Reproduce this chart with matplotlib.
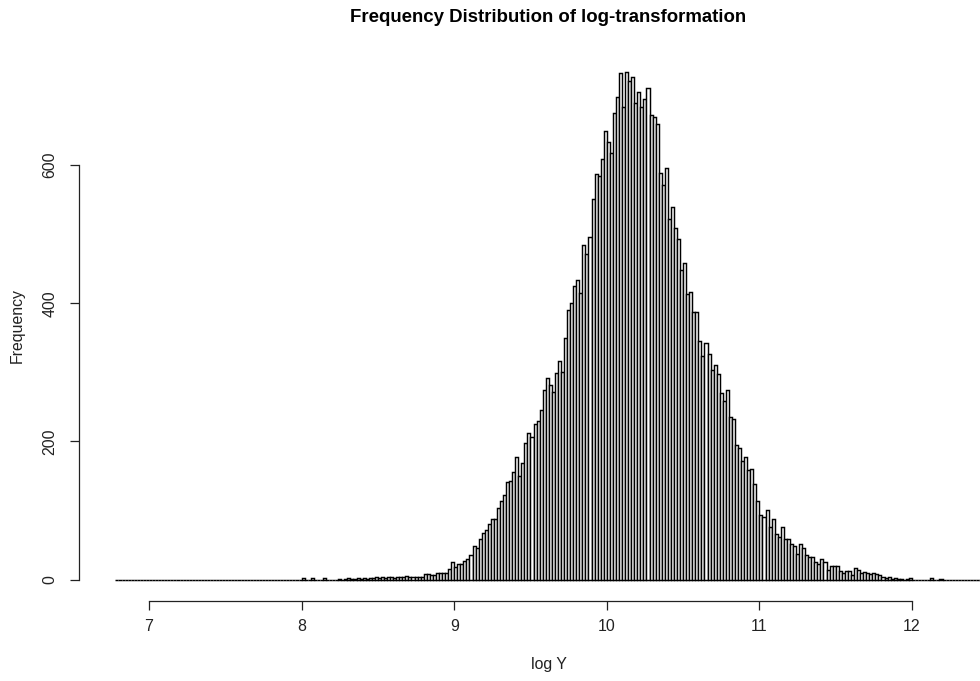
import numpy as np
import matplotlib
matplotlib.use("Agg")
import matplotlib.pyplot as plt

plt.rcParams['font.family'] = ['Liberation Sans', 'DejaVu Sans']

# histogram of log(Y): breaks every 0.02 starting at 6.78
first_break = 6.78
bin_width = 0.02
n_empty_left = 61      # empty bins 6.78 .. 7.98
n_empty_right = 13     # empty bins 12.20 .. 12.44

# counts for bins 8.00 .. 12.18 (10 bins per row)
core_counts = [
    2, 0, 0, 2, 0, 0, 0, 2, 0, 0,
    0, 0, 1, 0, 1, 2, 1, 1, 2, 1,
    2, 1, 2, 2, 3, 2, 3, 2, 3, 4,
    2, 3, 4, 3, 5, 4, 3, 4, 3, 4,
    8, 8, 7, 7, 9, 9, 9, 10, 15, 25,
    18, 23, 23, 27, 29, 36, 48, 45, 59, 68,
    71, 80, 88, 87, 103, 113, 122, 141, 142, 155,
    177, 150, 168, 198, 212, 206, 225, 230, 245, 275,
    292, 281, 271, 299, 316, 300, 349, 390, 400, 425,
    433, 415, 484, 471, 496, 551, 587, 584, 609, 649,
    633, 617, 675, 699, 733, 684, 735, 722, 727, 690,
    706, 684, 696, 711, 672, 670, 660, 589, 571, 596,
    522, 539, 509, 493, 448, 458, 414, 416, 387, 387,
    346, 323, 343, 327, 303, 310, 297, 270, 258, 274,
    235, 232, 194, 190, 172, 178, 158, 160, 138, 113,
    93, 91, 100, 76, 88, 66, 61, 76, 59, 58,
    51, 48, 37, 52, 45, 35, 33, 33, 26, 23,
    30, 26, 14, 19, 20, 19, 13, 9, 13, 13,
    7, 17, 14, 9, 11, 10, 8, 9, 8, 6,
    3, 2, 3, 1, 2, 1, 1, 0, 1, 2,
    0, 0, 0, 0, 0, 0, 2, 0, 0, 1,
]

counts = np.array([0] * n_empty_left + core_counts + [0] * n_empty_right)
lefts = first_break + bin_width * np.arange(len(counts))

x_ticks = [7, 8, 9, 10, 11, 12]
y_ticks = [0, 200, 400, 600]

fig = plt.figure(figsize=(9.8, 6.81), dpi=100)
ax = fig.add_axes([0.0806, 0.1182, 0.9194, 0.8062])

ax.bar(lefts, counts, width=bin_width, align='edge',
       facecolor='white', edgecolor='black', linewidth=1.05)

ax.set_xlim(6.5413, 12.4456)
ax.set_ylim(-30.4, 764.4)

for side in ['top', 'right']:
    ax.spines[side].set_visible(False)
ax.spines['bottom'].set_bounds(x_ticks[0], x_ticks[-1])
ax.spines['left'].set_bounds(y_ticks[0], y_ticks[-1])
for side in ['bottom', 'left']:
    ax.spines[side].set_linewidth(0.9)
    ax.spines[side].set_color('#222222')

ax.set_xticks(x_ticks)
ax.set_yticks(y_ticks)
ax.tick_params(axis='both', length=6.5, width=0.9, color='#222222',
               labelsize=11.4, labelcolor='#222222')
ax.tick_params(axis='x', pad=7)
ax.tick_params(axis='y', pad=9)
for lab in ax.get_yticklabels():
    lab.set_rotation(90)
    lab.set_va('center')

fig.text(548 / 980, 1 - 17 / 681, 'Frequency Distribution of log-transformation',
         ha='center', va='center', fontsize=13.4, fontweight='bold')
fig.text(549 / 980, 1 - 664 / 681, 'log Y', ha='center', va='center',
         fontsize=11.4, color='#222222')
fig.text(17 / 980, 1 - 326 / 681, 'Frequency', ha='center', va='center',
         rotation=90, fontsize=11.4, color='#222222')

fig.savefig('out.png', dpi=100)
